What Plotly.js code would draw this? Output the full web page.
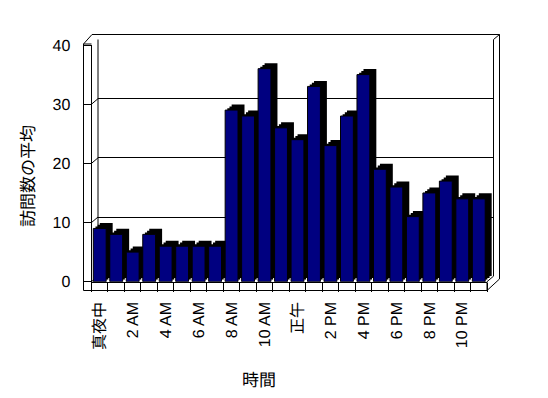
<!DOCTYPE html>
<html>
<head>
<meta charset="utf-8">
<script src="https://cdn.plot.ly/plotly-3.0.1.min.js"></script>
<style>html,body{margin:0;padding:0;background:#fff;}#chart{width:548px;height:398px;}svg text{text-rendering:geometricPrecision;}</style>
</head>
<body>
<div id="chart"></div>
<script>
// ---- data ----
const hours = ['真夜中','1 AM','2 AM','3 AM','4 AM','5 AM','6 AM','7 AM','8 AM','9 AM','10 AM','11 AM',
               '正午','1 PM','2 PM','3 PM','4 PM','5 PM','6 PM','7 PM','8 PM','9 PM','10 PM','11 PM'];
const visits = [9, 8, 5, 8, 6, 6, 6, 6, 29, 28, 36, 26, 24, 33, 23, 28, 35, 19, 16, 11, 15, 17, 14, 14];
const tickHours = ['真夜中','2 AM','4 AM','6 AM','8 AM','10 AM','正午','2 PM','4 PM','6 PM','8 PM','10 PM'];
const yTicks = [0, 10, 20, 30, 40];
const xTitle = '時間';
const yTitle = '訪問数の平均';

// ---- geometry (pixels) ----
const W = 548, H = 398;
const fx = p => p / W, fy = p => 1 - p / H;
const front = {l: 91.5, r: 487, t: 45, b: 281.7};
const depth = {dx: 6.5, dy: -5.5};
const yMax = 40;
function dom(f) {
  return {
    x: [fx(front.l + depth.dx * f), fx(front.r + depth.dx * f)],
    y: [fy(front.b + depth.dy * f), fy(front.t + depth.dy * f)]
  };
}
const FONT = 'Liberation Sans, Noto Sans CJK JP, sans-serif';
const CJK = 'Noto Sans CJK JP, sans-serif';

function hiddenX(d, anchor) {
  return {domain: d.x, anchor: anchor, type: 'category', categoryorder: 'array', categoryarray: hours,
          range: [-0.5, hours.length - 0.5], showgrid: false, zeroline: false, showline: false,
          showticklabels: false, ticks: '', fixedrange: true};
}
function hiddenY(d, anchor) {
  return {domain: d.y, anchor: anchor, range: [0, yMax], showgrid: false, zeroline: false,
          showline: false, showticklabels: false, ticks: '', fixedrange: true};
}

const dBack = dom(1), d2 = dom(1/3), d3 = dom(2/3), dFront = dom(0);

const traces = [
  {type: 'bar', x: hours, y: visits, xaxis: 'x', yaxis: 'y', marker: {color: '#000000', line: {width: 0}}, hoverinfo: 'skip'},
  {type: 'bar', x: hours, y: visits, xaxis: 'x2', yaxis: 'y2', marker: {color: '#000000', line: {width: 0}}, hoverinfo: 'skip'},
  {type: 'bar', x: hours, y: visits, xaxis: 'x3', yaxis: 'y3', marker: {color: '#000000', line: {width: 0}}, hoverinfo: 'skip'},
  {type: 'bar', x: hours, y: visits, xaxis: 'x4', yaxis: 'y4', marker: {color: '#000080', line: {color: '#000000', width: 1}}},
  {type: 'bar', x: hours, y: visits, xaxis: 'x5', yaxis: 'y4', marker: {color: 'rgba(0,0,0,0)', line: {width: 0}}, hoverinfo: 'skip'}
];

const backY = hiddenY(dBack, 'x');
backY.showgrid = true; backY.gridcolor = '#000000'; backY.gridwidth = 1; backY.dtick = 10; backY.tick0 = 0;

const line = (x0, y0, x1, y1) => ({type: 'line', xref: 'paper', yref: 'paper', layer: 'below',
  x0: fx(x0), y0: fy(y0), x1: fx(x1), y1: fy(y1), line: {color: '#000', width: 1}});

const shapes = [
  // left wall
  line(83.5, 44, 83.5, 290.5),
  line(83.5, 44, 91.5, 44),
  line(83.5, 44, 92, 34.5),
  // back wall outer top / right
  line(92, 34.5, 499.5, 34.5),
  line(499.5, 34.5, 499.5, 279),
  line(front.r + depth.dx, front.t + depth.dy, 499.5, 34.5),
  // back wall inner edges
  line(front.l + depth.dx, front.t + depth.dy, front.l + depth.dx, front.b + depth.dy),
  line(front.r + depth.dx, front.t + depth.dy, front.r + depth.dx, front.b + depth.dy),
  // floor slab
  line(83.5, 290.5, front.r, 290.5),
  line(front.r, front.b, front.r, 290.5),
  line(front.r, 290.5, 499.5, 279),
  line(front.r, front.b, front.r + depth.dx, front.b + depth.dy)
];
// tick diagonals on the left wall (front tick -> back gridline)
const unitPx = (front.b - front.t) / yMax;
yTicks.forEach(v => shapes.push({type: 'line', xref: 'paper', yref: 'y4', layer: 'below',
  x0: fx(front.l), y0: v, x1: fx(front.l + depth.dx), y1: v + (-depth.dy) / unitPx,
  line: {color: '#000', width: 1}}));

const layout = {
  width: W, height: H,
  margin: {l: 0, r: 0, t: 0, b: 0},
  paper_bgcolor: '#ffffff', plot_bgcolor: 'rgba(0,0,0,0)',
  showlegend: false, bargap: 0.22,
  font: {family: FONT, size: 16, color: '#000000'},
  xaxis: hiddenX(dBack, 'y'), yaxis: backY,
  xaxis2: hiddenX(d2, 'y2'), yaxis2: hiddenY(d2, 'x2'),
  xaxis3: hiddenX(d3, 'y3'), yaxis3: hiddenY(d3, 'x3'),
  xaxis4: Object.assign(hiddenX(dFront, 'y4'), {
    showticklabels: true, tickmode: 'array', tickvals: tickHours, ticktext: tickHours,
    tickangle: -90, ticklabelstandoff: 16, tickfont: {family: FONT, size: 16, color: '#000000'}
  }),
  yaxis4: Object.assign(hiddenY(dFront, 'x4'), {
    showline: true, linecolor: '#000', linewidth: 1,
    showticklabels: true, tickmode: 'array', tickvals: yTicks, ticks: 'outside', ticklen: 8,
    tickcolor: '#000', tickwidth: 1, ticklabelstandoff: 9, tickfont: {family: FONT, size: 16, color: '#000000'}
  }),
  xaxis5: Object.assign(hiddenX(dFront, 'y4'), {
    overlaying: 'x4', side: 'bottom', showline: true, linecolor: '#000', linewidth: 1,
    ticks: 'outside', tickson: 'boundaries', ticklen: 9, tickcolor: '#000', tickwidth: 1
  }),
  shapes: shapes,
  annotations: [
    {text: xTitle, xref: 'paper', yref: 'paper', x: fx(259), y: fy(378), xanchor: 'center', yanchor: 'middle',
     showarrow: false, font: {family: CJK, size: 17, color: '#000000'}},
    {text: yTitle, xref: 'paper', yref: 'paper', x: fx(26), y: fy(176), xanchor: 'center', yanchor: 'middle',
     textangle: -90, showarrow: false, font: {family: CJK, size: 17, color: '#000000'}}
  ]
};

Plotly.newPlot('chart', traces, layout, {staticPlot: true, displayModeBar: false});
</script>
</body>
</html>
